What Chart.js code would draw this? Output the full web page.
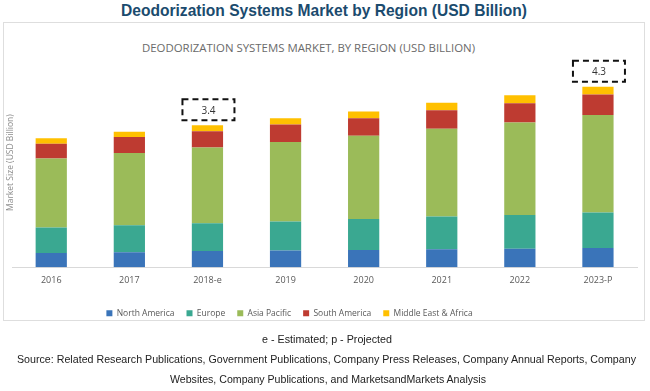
<!DOCTYPE html>
<html>
<head>
<meta charset="UTF-8">
<title>Deodorization Systems Market by Region</title>
<script src="https://cdn.jsdelivr.net/npm/chart.js"></script>
<style>
	body {
		margin: 0;
		width: 650px;
		height: 391px;
		position: relative;
		background: #fff;
		overflow: hidden;
		font-family: "Liberation Sans", sans-serif;
	}
	.line {
		position: absolute;
		white-space: nowrap;
		transform-origin: 0 50%;
	}
	#pageTitle {
		top: 1px;
		font-size: 17px;
		font-weight: bold;
		color: #1b4b6e;
	}
	#frame {
		position: absolute;
		left: 3px;
		top: 22px;
		width: 640px;
		height: 297px;
		border: 1px solid #dedede;
	}
	#chartTitle {
		top: 40px;
		font-family: "Open Sans", sans-serif;
		font-size: 11px;
		color: #6a6a6a;
	}
	#myChart {
		position: absolute;
		left: 0;
		top: 0;
	}
	.note {
		font-size: 11px;
		color: #222;
	}
</style>
</head>
<body>
<div id="frame"></div>
<div id="pageTitle" class="line" data-x="121" data-w="406">Deodorization Systems Market by Region (USD Billion)</div>
<div id="chartTitle" class="line" data-x="142" data-w="333">DEODORIZATION SYSTEMS MARKET, BY REGION (USD BILLION)</div>
<canvas id="myChart" width="650" height="391"></canvas>
<div class="line note" style="top:333px" data-x="262" data-w="130">e - Estimated; p - Projected</div>
<div class="line note" style="top:353px" data-x="17" data-w="619">Source: Related Research Publications, Government Publications, Company Press Releases, Company Annual Reports, Company</div>
<div class="line note" style="top:373px" data-x="170" data-w="316">Websites, Company Publications, and MarketsandMarkets Analysis</div>
<script>
	// values (USD Billion)
	const years = ['2016', '2017', '2018-e', '2019', '2020', '2021', '2022', '2023-P'];
	const northAmerica = [0.34, 0.36, 0.39, 0.40, 0.41, 0.43, 0.44, 0.46];
	const europe = [0.61, 0.64, 0.66, 0.69, 0.74, 0.78, 0.81, 0.85];
	const asiaPacific = [1.65, 1.73, 1.81, 1.90, 1.99, 2.10, 2.21, 2.33];
	const southAmerica = [0.35, 0.38, 0.39, 0.42, 0.42, 0.44, 0.46, 0.49];
	const middleEast = [0.13, 0.13, 0.14, 0.15, 0.16, 0.18, 0.19, 0.18];

	// callout boxes above bars
	const calloutIndex = [2, 7];
	const calloutText = ['3.4', '4.3'];

	// squeeze each text line to the width it has in the picture
	document.querySelectorAll('.line').forEach(el => {
		el.style.left = el.dataset.x + 'px';
		const w = el.getBoundingClientRect().width;
		el.style.transform = 'scaleX(' + (el.dataset.w / w) + ')';
	});

	const calloutPlugin = {
		id: 'callouts',
		afterDatasetsDraw(chart) {
			const {ctx, scales} = chart;
			ctx.save();
			calloutIndex.forEach((idx, i) => {
				let total = 0;
				chart.data.datasets.forEach(ds => total += ds.data[idx]);
				const cx = scales.x.getPixelForValue(idx) + 1;
				const top = scales.y.getPixelForValue(total);
				const w = 52, h = 21;
				const bx = cx - w / 2, by = top - 5 - h;
				ctx.setLineDash([6, 4]);
				ctx.lineWidth = 2;
				ctx.strokeStyle = '#111';
				ctx.strokeRect(bx, by, w, h);
				ctx.setLineDash([]);
				ctx.fillStyle = '#333';
				ctx.font = '10px "Open Sans"';
				ctx.textAlign = 'center';
				ctx.textBaseline = 'middle';
				ctx.fillText(calloutText[i], cx, by + h / 2 + 1);
			});
			ctx.restore();
		}
	};

	// the legend in the picture sits a bit left of centre and a little lower
	const legendShift = {
		id: 'legendShift',
		afterLayout(chart) {
			chart.legend.left -= 30;
			chart.legend.right -= 30;
			chart.legend.top += 3;
			chart.legend.bottom += 3;
		}
	};

	const ctx = document.getElementById('myChart').getContext('2d');
	const chart = new Chart(ctx, {
		type: 'bar',
		data: {
			labels: years,
			datasets: [
				{label: 'North America', data: northAmerica, backgroundColor: '#3a74b9'},
				{label: 'Europe', data: europe, backgroundColor: '#3aa891'},
				{label: 'Asia Pacific', data: asiaPacific, backgroundColor: '#9bbb59'},
				{label: 'South America', data: southAmerica, backgroundColor: '#be3b31'},
				{label: 'Middle East & Africa', data: middleEast, backgroundColor: '#ffc000'}
			]
		},
		options: {
			responsive: false,
			animation: false,
			categoryPercentage: 1,
			barPercentage: 0.4,
			layout: {
				padding: {left: 2, right: 13, top: 58, bottom: 66.5}
			},
			scales: {
				x: {
					stacked: true,
					grid: {display: false, drawTicks: false},
					border: {color: '#d9d9d9'},
					ticks: {
						color: '#595959',
						padding: 8,
						font: {family: 'Open Sans', size: 9}
					}
				},
				y: {
					stacked: true,
					min: 0,
					max: 5,
					grid: {display: false, drawTicks: false},
					border: {display: false},
					ticks: {display: false},
					title: {
						display: true,
						text: 'Market Size (USD Billion)',
						color: '#8c8c8c',
						padding: {top: 3, bottom: -3},
						font: {family: 'Open Sans', size: 8.5}
					}
				}
			},
			plugins: {
				legend: {
					position: 'bottom',
					labels: {
						boxWidth: 6,
						boxHeight: 6,
						padding: 12,
						color: '#595959',
						font: {family: 'Open Sans', size: 8.5}
					}
				},
				tooltip: {enabled: false}
			}
		},
		plugins: [calloutPlugin, legendShift]
	});
</script>
</body>
</html>
